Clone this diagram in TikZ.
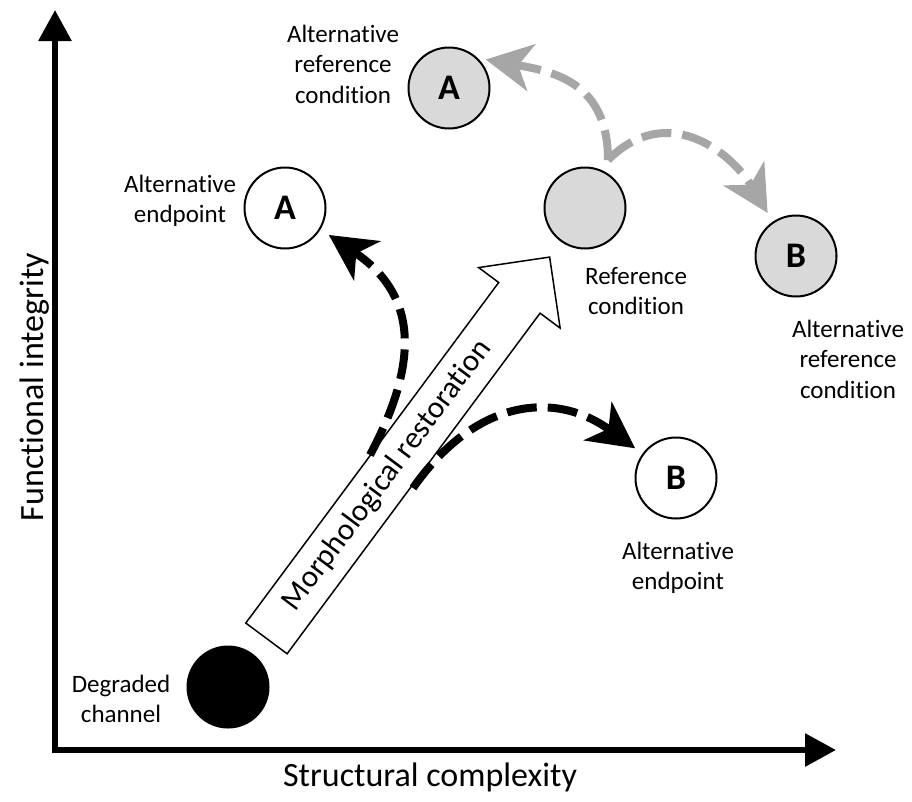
\documentclass[tikz,border=0pt]{standalone}
\usepackage{fontspec}
\setmainfont{Carlito}[Ligatures=NoCommon]
\usepackage{tikz}
\usetikzlibrary{shapes, shapes.arrows}
\usetikzlibrary{positioning, calc, arrows.meta}
\definecolor{pathgrey}{HTML}{A6A6A6}
\definecolor{condgrey}{HTML}{D9D9D9}

\begin{document}
\begin{tikzpicture}[x=1pt, y=-1pt,
		cond/.style={
			draw,
			circle,
			line width=2pt,
			minimum size=81pt,
			inner sep=0pt,
			font=\fontsize{36}{40}\selectfont\bfseries},
		lab/.style={align=center, font=\fontsize{25}{30.5}\selectfont},
		axlab/.style={font=\fontsize{34}{40}\selectfont},
		blackpath/.style={line width=8pt, dash pattern=on 30pt off 11pt,
			-{Stealth[length=46pt, width=47pt, inset=13pt]}},
		greypath/.style={blackpath, draw=pathgrey}
		]
		\useasboundingbox (0,0) rectangle (912,801);
		% axes
		\coordinate (ytip) at (55,10);
		\coordinate (xtip) at (836,750);
		\draw[line width=6pt, {Triangle[length=31pt, width=32pt]}-{Triangle[length=31pt, width=32pt]}] (ytip) |- (xtip);
		\node[axlab, rotate=90, anchor=base] (ylab) at (43,387) {Functional integrity};
		\node[axlab, anchor=base] (xlab) at (430,786) {Structural complexity};
		% circles
		\node[circle, fill=black, minimum size=83pt] (deg) at (228,687) {};
		\node[cond, fill=condgrey] (ref) at (585,208) {};
		\node[cond, fill=condgrey] (altA) at (449,88) {A};
		\node[cond, fill=condgrey] (altB) at (796,256) {B};
		\node[cond, fill=white] (endA) at (285,208) {A};
		\node[cond, fill=white] (endB) at (676,478) {B};
		\node[lab] (deglab) at (121,699) {Degraded\\channel};
		\node[lab] (reflab) at (636,291) {Reference\\condition};
		\node[lab] (altAlab) at (343,64) {Alternative\\reference\\condition};
		\node[lab] (altBlab) at (848,359) {Alternative\\reference\\condition};
		\node[lab] (endAlab) at (180,201) {Alternative\\endpoint};
		\node[lab] (endBlab) at (678,568) {Alternative\\endpoint};
		% restoration
		\node[single arrow, draw, line width=1.5pt, fill=white, minimum height=475pt,
			inner xsep=0pt, inner ysep=25pt, single arrow head extend=25pt,
			rotate=53.4, anchor=tail] (restore) at (266,639) {};
		\node[rotate=53.4, font=\fontsize{31}{37}\selectfont] (restlab) at ($(restore.tail)!0.427!(restore.tip)$) {Morphological restoration};
		\coordinate (forkL) at (370,455);
		\coordinate (forkR) at (413,488);
		\coordinate (split) at (608,160);
		\draw[blackpath, shorten >=10pt] (forkL) to[out=62, in=-34, looseness=1.25] (endA.-31);
		\draw[blackpath, shorten >=9pt] (forkR) to[out=55, in=144, looseness=1.2] (endB.144);
		\draw[greypath, shorten >=8pt] (split) to[out=90, in=-10, looseness=1.2] (altA.46);
		\draw[greypath, shorten >=10pt] (split) to[out=45, in=121, looseness=1.2] (altB.124);
\end{tikzpicture}
\end{document}
